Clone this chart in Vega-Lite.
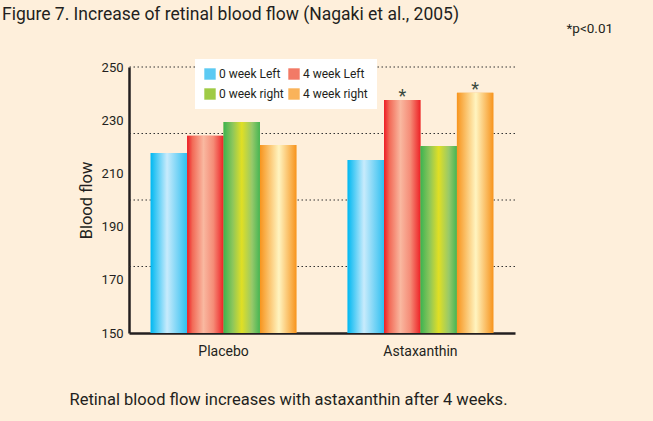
{
  "$schema": "https://vega.github.io/schema/vega-lite/v6.json",
  "width": 386,
  "height": 266,
  "autosize": {"type": "none"},
  "padding": {"left": 129, "top": 67, "right": 138, "bottom": 88},
  "background": "#feefdb",
  "title": {
    "text": "Figure 7. Increase of retinal blood flow (Nagaki et al., 2005)",
    "anchor": "start",
    "frame": "group",
    "dx": -127,
    "dy": 6,
    "fontSize": 17.5,
    "fontWeight": "normal",
    "font": "Roboto",
    "color": "#231f20"
  },
  "config": {"view": {"stroke": null}, "font": "Roboto"},
  "datasets": {
    "bars": [
      {"group": "Placebo", "series": "0 week Left", "value": 217.7, "sig": ""},
      {"group": "Placebo", "series": "4 week Left", "value": 224.2, "sig": ""},
      {"group": "Placebo", "series": "0 week right", "value": 229.3, "sig": ""},
      {"group": "Placebo", "series": "4 week right", "value": 220.7, "sig": ""},
      {"group": "Astaxanthin", "series": "0 week Left", "value": 215.0, "sig": ""},
      {"group": "Astaxanthin", "series": "4 week Left", "value": 237.6, "sig": "*"},
      {"group": "Astaxanthin", "series": "0 week right", "value": 220.3, "sig": ""},
      {"group": "Astaxanthin", "series": "4 week right", "value": 240.3, "sig": "*"}
    ],
    "grid": [{"g": 175}, {"g": 200}, {"g": 225}, {"g": 250}]
  },
  "layer": [
    {
      "data": {"name": "grid"},
      "mark": {"type": "rule", "strokeDash": [1.5, 2.5], "color": "#333333", "strokeWidth": 1},
      "encoding": {
        "y": {
          "field": "g", "type": "quantitative",
          "scale": {"domain": [150, 250], "nice": false, "zero": false},
          "axis": {"orient": "right", "title": "*p<0.01", "labels": false, "ticks": false, "domain": false, "grid": false,
            "titleAngle": 0, "titleX": 51, "titleY": -39, "titleAlign": "left", "titleBaseline": "middle",
            "titleFontSize": 13.5, "titleFontWeight": "normal", "titleColor": "#231f20"}
        }
      }
    },
    {
      "data": {"name": "bars"},
      "mark": {"type": "bar"},
      "encoding": {
        "x": {"field": "group", "type": "nominal", "sort": ["Placebo", "Astaxanthin"],
          "scale": {"domain": ["Placebo", "Astaxanthin"], "paddingInner": 0.26, "paddingOuter": 0.11},
          "axis": {"title": "Retinal blood flow increases with astaxanthin after 4 weeks.", "labelAngle": 0, "ticks": false,
            "domainWidth": 2.5, "domainColor": "#231f20", "labelFontSize": 14, "labelPadding": 11, "labelColor": "#231f20",
            "titleX": 159, "titleY": 66, "titleAlign": "center", "titleBaseline": "middle", "titleFontSize": 16.5,
            "titleFontWeight": "normal", "titleColor": "#231f20"}},
        "xOffset": {"field": "series", "type": "nominal",
          "scale": {"domain": ["0 week Left", "4 week Left", "0 week right", "4 week right"], "paddingInner": 0, "paddingOuter": 0}},
        "y": {"field": "value", "type": "quantitative",
          "scale": {"domain": [150, 250], "nice": false, "zero": false},
          "axis": {"orient": "left", "values": [150, 170, 190, 210, 230, 250], "title": "Blood flow", "grid": false, "ticks": false,
            "domainWidth": 2.5, "domainColor": "#231f20", "labelFontSize": 13, "labelPadding": 6, "labelColor": "#231f20",
            "titleFontSize": 16.5, "titleFontWeight": "normal", "titlePadding": 7, "titleColor": "#231f20"}},
        "y2": {"datum": 150},
        "color": {"field": "series", "type": "nominal",
          "scale": {"domain": ["0 week Left", "0 week right", "4 week Left", "4 week right"],
            "range": ["#5ccaf3", "#9fcb45", "#f27a66", "#fab35a"]},
          "legend": {"orient": "none", "legendX": 66, "legendY": -8, "fillColor": "white", "padding": 9,
            "columns": 2, "columnPadding": 4, "rowPadding": 8, "symbolType": "square", "symbolSize": 130,
            "symbolStrokeWidth": 0, "labelFontSize": 12, "labelColor": "#231f20", "labelOffset": 3, "title": null}}
      }
    },
    {
      "data": {"name": "bars"},
      "transform": [{"filter": "datum.series === '0 week Left'"}],
      "mark": {"type": "bar", "fill": {"gradient": "linear", "x1": 0, "x2": 1, "y1": 0, "y2": 0,
        "stops": [{"offset": 0, "color": "#00b8f1"}, {"offset": 0.45, "color": "#c8ebfc"}, {"offset": 1, "color": "#2fbff0"}]}},
      "encoding": {
        "x": {"field": "group", "type": "nominal"},
        "xOffset": {"field": "series", "type": "nominal", "scale": {"domain": ["0 week Left", "4 week Left", "0 week right", "4 week right"]}},
        "y": {"field": "value", "type": "quantitative", "axis": null},
        "y2": {"datum": 150}
      }
    },
    {
      "data": {"name": "bars"},
      "transform": [{"filter": "datum.series === '4 week Left'"}],
      "mark": {"type": "bar", "fill": {"gradient": "linear", "x1": 0, "x2": 1, "y1": 0, "y2": 0,
        "stops": [{"offset": 0, "color": "#ed1c24"}, {"offset": 0.15, "color": "#f26b58"}, {"offset": 0.45, "color": "#f9b8a0"}, {"offset": 0.72, "color": "#f58c77"}, {"offset": 1, "color": "#ed2226"}]}},
      "encoding": {
        "x": {"field": "group", "type": "nominal"},
        "xOffset": {"field": "series", "type": "nominal", "scale": {"domain": ["0 week Left", "4 week Left", "0 week right", "4 week right"]}},
        "y": {"field": "value", "type": "quantitative", "axis": null},
        "y2": {"datum": 150}
      }
    },
    {
      "data": {"name": "bars"},
      "transform": [{"filter": "datum.series === '0 week right'"}],
      "mark": {"type": "bar", "fill": {"gradient": "linear", "x1": 0, "x2": 1, "y1": 0, "y2": 0,
        "stops": [{"offset": 0, "color": "#3cb34f"}, {"offset": 0.25, "color": "#8cc65c"}, {"offset": 0.5, "color": "#e0df24"}, {"offset": 0.78, "color": "#97c96a"}, {"offset": 1, "color": "#45b553"}]}},
      "encoding": {
        "x": {"field": "group", "type": "nominal"},
        "xOffset": {"field": "series", "type": "nominal", "scale": {"domain": ["0 week Left", "4 week Left", "0 week right", "4 week right"]}},
        "y": {"field": "value", "type": "quantitative", "axis": null},
        "y2": {"datum": 150}
      }
    },
    {
      "data": {"name": "bars"},
      "transform": [{"filter": "datum.series === '4 week right'"}],
      "mark": {"type": "bar", "fill": {"gradient": "linear", "x1": 0, "x2": 1, "y1": 0, "y2": 0,
        "stops": [{"offset": 0, "color": "#f7941d"}, {"offset": 0.52, "color": "#fff4c0"}, {"offset": 1, "color": "#f7941d"}]}},
      "encoding": {
        "x": {"field": "group", "type": "nominal"},
        "xOffset": {"field": "series", "type": "nominal", "scale": {"domain": ["0 week Left", "4 week Left", "0 week right", "4 week right"]}},
        "y": {"field": "value", "type": "quantitative", "axis": null},
        "y2": {"datum": 150}
      }
    },
    {
      "data": {"name": "bars"},
      "mark": {"type": "text", "fontSize": 18, "color": "#3a4a40", "baseline": "alphabetic", "dy": 2},
      "encoding": {
        "x": {"field": "group", "type": "nominal"},
        "xOffset": {"field": "series", "type": "nominal", "scale": {"domain": ["0 week Left", "4 week Left", "0 week right", "4 week right"]}},
        "y": {"field": "value", "type": "quantitative", "axis": null},
        "text": {"field": "sig"}
      }
    }
  ],
  "resolve": {"axis": {"y": "independent"}}
}
